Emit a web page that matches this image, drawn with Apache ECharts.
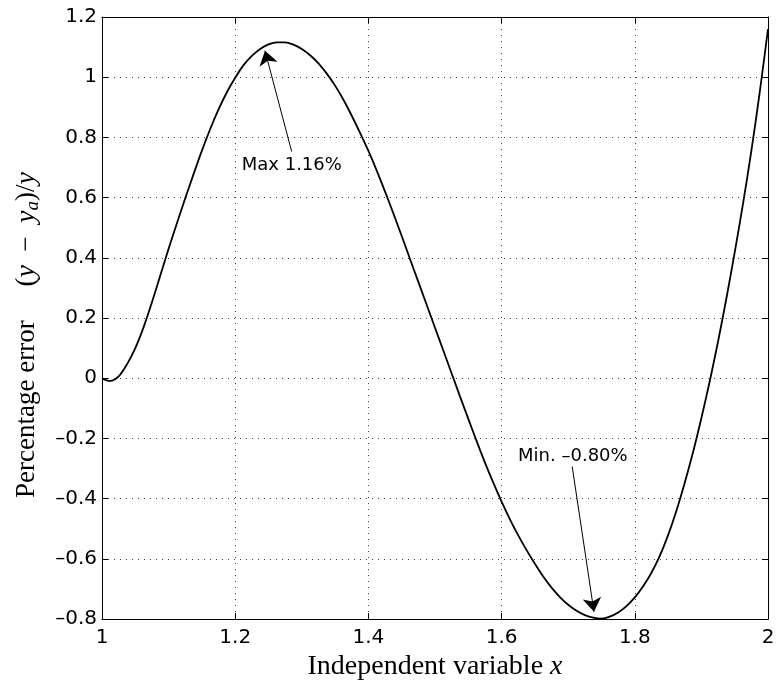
<!DOCTYPE html>
<html>
<head>
<meta charset="utf-8">
<script src="https://cdn.jsdelivr.net/npm/echarts@6/dist/echarts.min.js"></script>
<style>html,body{margin:0;padding:0;background:#fff}#c{width:778px;height:686px}</style>
</head>
<body>
<div id="c"></div>
<script>
// ---- data ----
const xValues = [1.000,1.006,1.0125,1.025,1.0375,1.050,1.0625,1.075,1.0875,1.100,1.1125,1.125,1.1375,1.150,1.1625,1.175,1.1875,1.200,1.2125,1.225,1.2375,1.250,1.2625,1.275,1.2875,1.300,1.3125,1.325,1.3375,1.350,1.3625,1.375,1.3875,1.400,1.4125,1.425,1.4375,1.450,1.4625,1.475,1.4875,1.500,1.5125,1.525,1.5375,1.550,1.5625,1.575,1.5875,1.600,1.6125,1.625,1.6375,1.650,1.6625,1.675,1.6875,1.700,1.7125,1.725,1.7375,1.750,1.7625,1.775,1.7875,1.800,1.8125,1.825,1.8375,1.850,1.8625,1.875,1.8875,1.900,1.9125,1.925,1.9375,1.950,1.9625,1.975,1.9875,2.000];
const yValues = [0.000,-0.006,-0.009,0.006,0.046,0.100,0.170,0.2525,0.341,0.430,0.515,0.598,0.678,0.756,0.828,0.893,0.950,0.998,1.040,1.071,1.094,1.109,1.116,1.116,1.108,1.094,1.073,1.046,1.012,0.972,0.925,0.872,0.815,0.755,0.690,0.620,0.5475,0.4725,0.396,0.320,0.244,0.168,0.092,0.016,-0.060,-0.135,-0.209,-0.280,-0.347,-0.410,-0.4685,-0.522,-0.571,-0.616,-0.6585,-0.6954,-0.7266,-0.7523,-0.7723,-0.7866,-0.7954,-0.7985,-0.792,-0.778,-0.757,-0.728,-0.691,-0.646,-0.590,-0.521,-0.440,-0.347,-0.245,-0.132,-0.010,0.122,0.265,0.418,0.580,0.755,0.949,1.160];
const xTickLabels = ['1','1.2','1.4','1.6','1.8','2'];
const yTickLabels = ['\u20130.8','\u20130.6','\u20130.4','\u20130.2','0','0.2','0.4','0.6','0.8','1','1.2'];
const annotationTexts = ['Max 1.16%', 'Min. \u20130.80%'];
const annotationTextAt = [[1.285, 0.706], [1.707, -0.26]];
const arrowFrom = [[1.2848, 0.753], [1.706, -0.293]];
const arrowTo = [[1.2447, 1.088], [1.7387, -0.776]];
const xLabel = 'Independent variable {i|x}';
const yLabel = 'Percentage error     ({i|y}  \u2212  {i|y}{s|a})/{i|y}{g| }';

const sans = 'DejaVu Sans, Liberation Sans, Arial, sans-serif';
const serif = 'Liberation Serif, DejaVu Serif, serif';
const seriesData = xValues.map((x, i) => [x, yValues[i]]);

const richName = {
  i: {fontFamily: serif, fontStyle: 'italic', fontSize: 28, color: '#000'},
  s: {fontFamily: serif, fontStyle: 'italic', fontSize: 19, color: '#000', verticalAlign: 'bottom', padding: [12, 0, 0, 0]},
  g: {fontFamily: serif, fontSize: 28, width: 34}
};

const gridLine = {show: true, lineStyle: {color: '#444', width: 1, type: [1, 5]}};
const boxLine = {show: true, onZero: false, lineStyle: {color: '#000', width: 1}};
const tickIn = {show: true, inside: true, length: 6, lineStyle: {color: '#000', width: 1}};

const chart = echarts.init(document.getElementById('c'), null, {renderer: 'canvas'});
chart.setOption({
  backgroundColor: '#fff',
  animation: false,
  grid: {left: 102, right: 10, top: 17, bottom: 66, containLabel: false},
  xAxis: [{
    type: 'value', min: 1, max: 2, interval: 0.2, position: 'bottom',
    axisLine: boxLine, axisTick: tickIn, splitLine: gridLine,
    axisLabel: {color: '#000', fontFamily: sans, fontSize: 20, margin: 9,
      formatter: (v, i) => xTickLabels[i]},
    name: xLabel, nameLocation: 'middle', nameGap: 25,
    nameTextStyle: {fontFamily: serif, fontSize: 28, color: '#000', rich: richName}
  }, {
    type: 'value', min: 1, max: 2, interval: 0.2, position: 'top',
    axisLine: boxLine, axisTick: tickIn, splitLine: {show: false}, axisLabel: {show: false}
  }],
  yAxis: [{
    type: 'value', min: -0.8, max: 1.2, interval: 0.2, position: 'left',
    axisLine: boxLine, axisTick: tickIn, splitLine: gridLine,
    axisLabel: {color: '#000', fontFamily: sans, fontSize: 20, margin: 5,
      formatter: (v, i) => yTickLabels[i]},
    name: yLabel, nameLocation: 'middle', nameGap: 60, nameRotate: 90,
    nameTextStyle: {fontFamily: serif, fontSize: 27, color: '#000', rich: richName}
  }, {
    type: 'value', min: -0.8, max: 1.2, interval: 0.2, position: 'right',
    axisLine: boxLine, axisTick: tickIn, splitLine: {show: false}, axisLabel: {show: false}
  }],
  series: [{
    type: 'line', xAxisIndex: 0, yAxisIndex: 0,
    data: seriesData, smooth: 0.3, showSymbol: false, symbol: 'none',
    lineStyle: {color: '#000', width: 1.8},
    markLine: {
      silent: true, symbol: ['none', 'arrow'], symbolSize: 14,
      itemStyle: {color: '#000'},
      lineStyle: {color: '#000', width: 1, type: 'solid'},
      label: {show: false},
      data: arrowFrom.map((f, i) => [{coord: f}, {coord: arrowTo[i]}])
    },
    markPoint: {
      silent: true, symbol: 'circle', symbolSize: 0,
      label: {show: true, position: 'inside', color: '#000', fontFamily: sans, fontSize: 18},
      data: annotationTextAt.map((p, i) => ({coord: p, value: annotationTexts[i],
        label: {formatter: annotationTexts[i]}}))
    }
  }]
});
</script>
</body>
</html>
